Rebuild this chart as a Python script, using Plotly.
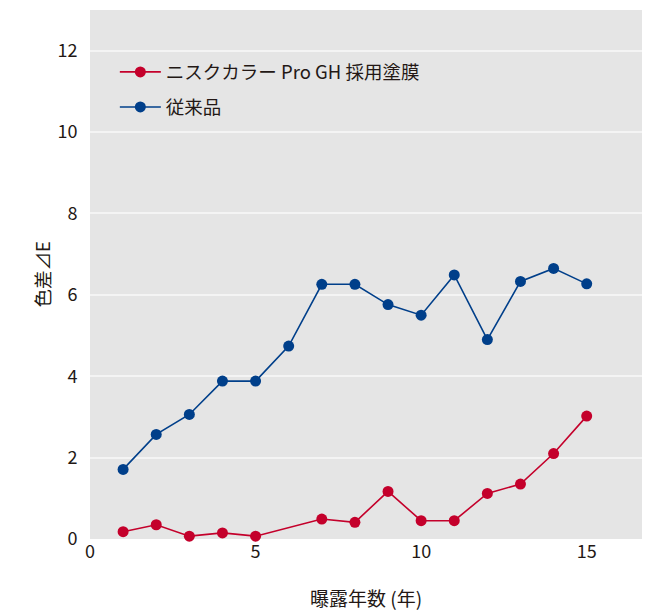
import plotly.graph_objects as go

years_new = [1, 2, 3, 4, 5, 7, 8, 9, 10, 11, 12, 13, 14, 15]
delta_new = [0.18, 0.35, 0.07, 0.15, 0.07, 0.49, 0.41, 1.17, 0.45, 0.45, 1.12, 1.35, 2.10, 3.02]
years_old = [1, 2, 3, 4, 5, 6, 7, 8, 9, 10, 11, 12, 13, 14, 15]
delta_old = [1.71, 2.57, 3.06, 3.88, 3.88, 4.74, 6.26, 6.26, 5.76, 5.50, 6.49, 4.90, 6.33, 6.65, 6.27]

name_new = "ニスクカラー Pro GH 採用塗膜"
name_old = "従来品"
x_title = "曝露年数 (年)"
y_title = "色差⊿E"
x_ticks = [0, 5, 10, 15]
y_ticks = [0, 2, 4, 6, 8, 10, 12]

RED = "#c4002b"
BLUE = "#003f8a"
FONT = "Noto Sans CJK JP"
TXT = "#231815"

fig = go.Figure()
fig.add_trace(go.Scatter(
    x=years_new, y=delta_new, name=name_new, mode="lines+markers",
    line=dict(color=RED, width=1.6), marker=dict(color=RED, size=11),
    legendgroup="a", cliponaxis=False))
fig.add_trace(go.Scatter(
    x=years_old, y=delta_old, name=name_old, mode="lines+markers",
    line=dict(color=BLUE, width=1.6), marker=dict(color=BLUE, size=11),
    legendgroup="b", cliponaxis=False))

# the page body has an 8px margin, so the figure is sized/offset to compensate
fig.update_layout(
    width=650, height=604,
    margin=dict(l=82, r=16, t=2, b=73, autoexpand=False),
    paper_bgcolor="white", plot_bgcolor="#e5e5e5",
    font=dict(family=FONT, size=17, color=TXT),
    showlegend=True,
    legend=dict(x=0.045, y=0.918, xanchor="left", yanchor="top",
                bgcolor="rgba(0,0,0,0)", font=dict(size=18.5, color=TXT),
                traceorder="grouped", tracegroupgap=8, itemwidth=41),
    xaxis=dict(range=[0, 16.67], tickvals=x_ticks, showgrid=False, zeroline=False,
               showline=False, ticks="", tickfont=dict(size=18), automargin=False),
    yaxis=dict(range=[0, 13], tickvals=y_ticks, showgrid=True, gridcolor="#f4f4f4",
               gridwidth=2, zeroline=False, showline=False, ticks="outside", ticklen=8,
               tickcolor="rgba(0,0,0,0)", tickfont=dict(size=18), automargin=False),
    annotations=[
        dict(text=x_title, xref="paper", yref="paper", x=0.5, y=-0.111,
             xanchor="center", yanchor="middle", showarrow=False,
             font=dict(size=19, color=TXT)),
        dict(text=y_title, xref="paper", yref="paper", x=-0.087, y=0.5,
             xanchor="center", yanchor="middle", showarrow=False, textangle=-90,
             font=dict(size=18.5, color=TXT)),
    ],
)

fig.write_html("out.html")
